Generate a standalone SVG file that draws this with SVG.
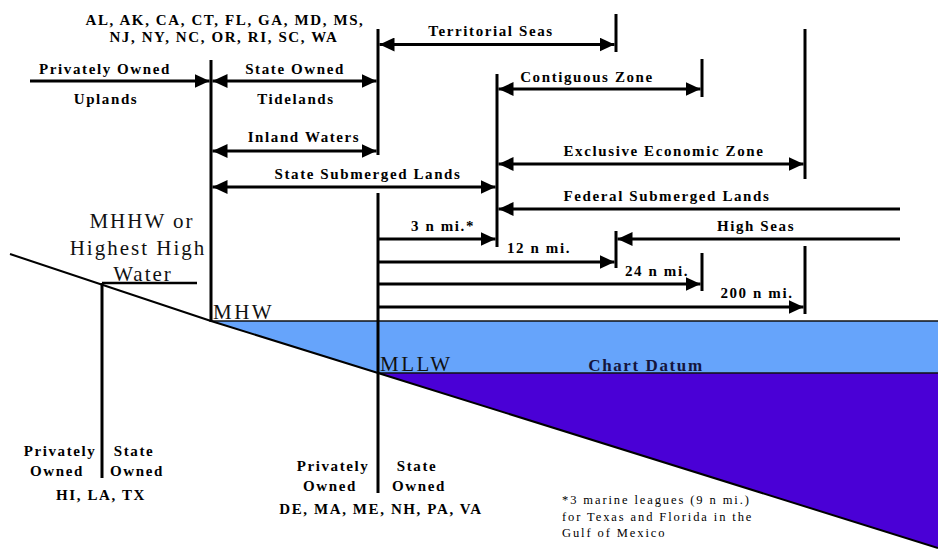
<svg xmlns="http://www.w3.org/2000/svg" width="938" height="552" viewBox="0 0 938 552">
<style>
.lbl{font-family:"Liberation Serif","Times New Roman",serif;font-weight:bold;font-size:15px;letter-spacing:1.6px;fill:#000;text-anchor:middle}
.big{font-family:"Liberation Serif","Times New Roman",serif;font-size:21px;letter-spacing:2px;fill:#111;text-anchor:middle}
.dat{font-family:"Liberation Serif","Times New Roman",serif;font-size:21px;letter-spacing:2.5px;fill:#111}
.note{font-family:"Liberation Serif","Times New Roman",serif;font-size:12.5px;letter-spacing:1.9px;fill:#000}
.chart{font-family:"Liberation Serif","Times New Roman",serif;font-weight:bold;font-size:17px;letter-spacing:1.6px;fill:#15153d;text-anchor:middle}
.v{stroke:#000;stroke-width:3;fill:none}
.a{stroke:#000;stroke-width:3;fill:none;marker-end:url(#ah)}
.aa{stroke:#000;stroke-width:3;fill:none;marker-end:url(#ah);marker-start:url(#ah)}
.as{stroke:#000;stroke-width:3;fill:none;marker-start:url(#ah)}
</style>
<defs>
<marker id="ah" markerUnits="userSpaceOnUse" markerWidth="16" markerHeight="14" refX="15" refY="7" orient="auto-start-reverse" viewBox="0 0 16 14">
<path d="M0,0 L15,7 L0,14 Z" fill="#000"/>
</marker>
</defs>
<rect width="938" height="552" fill="#fff"/>

<g id="water">
<polygon points="211,321 938,321 938,373 378,373" fill="#66a4fb"/>
<polygon points="378,373 938,373 938,548" fill="#4a00d6"/>
<line x1="211" y1="321" x2="938" y2="321" stroke="#111" stroke-width="1.5"/>
<line x1="378" y1="373" x2="938" y2="373" stroke="#111" stroke-width="1.5"/>
<polyline points="10,254 211,321 378,373 938,548" fill="none" stroke="#000" stroke-width="2"/>
</g>

<g id="boundaries">
<line class="v" x1="211" y1="60" x2="211" y2="322"/>
<line class="v" x1="378" y1="29" x2="378" y2="155"/>
<line class="v" x1="378" y1="193" x2="378" y2="493"/>
<line class="v" x1="616" y1="14" x2="616" y2="52"/>
<line class="v" x1="497" y1="74" x2="497" y2="247"/>
<line class="v" x1="702" y1="59" x2="702" y2="97"/>
<line class="v" x1="805" y1="29" x2="805" y2="179"/>
<line class="v" x1="616" y1="231" x2="616" y2="268"/>
<line class="v" x1="702" y1="253" x2="702" y2="291"/>
<line class="v" x1="805" y1="246" x2="805" y2="314"/>
<line class="v" x1="102" y1="283" x2="102" y2="478"/>
<line x1="102" y1="283" x2="197" y2="283" stroke="#000" stroke-width="2.5"/>
</g>

<g id="connectors">
<line class="aa" x1="379.5" y1="44.5" x2="614.5" y2="44.5"/>
<line class="a" x1="30" y1="81" x2="209.5" y2="81"/>
<line class="aa" x1="212.5" y1="81" x2="376.5" y2="81"/>
<line class="aa" x1="498.5" y1="89" x2="700.5" y2="89"/>
<line class="aa" x1="212.5" y1="151" x2="376.5" y2="151"/>
<line class="aa" x1="498.5" y1="164" x2="803.5" y2="164"/>
<line class="aa" x1="212.5" y1="187" x2="495.5" y2="187"/>
<line class="as" x1="498.5" y1="209" x2="900" y2="209"/>
<line class="as" x1="617.5" y1="239" x2="900" y2="239"/>
<line class="a" x1="378" y1="239" x2="495.5" y2="239"/>
<line class="a" x1="378" y1="262" x2="614.5" y2="262"/>
<line class="a" x1="378" y1="284" x2="700.5" y2="284"/>
<line class="a" x1="378" y1="307" x2="803.5" y2="307"/>
</g>

<g id="states-top">
<text class="lbl" x="225" y="25">AL, AK, CA, CT, FL, GA, MD, MS,</text>
<text class="lbl" x="224" y="42">NJ, NY, NC, OR, RI, SC, WA</text>
</g>
<g id="uplands">
<text class="lbl" x="105" y="74">Privately Owned</text>
<text class="lbl" x="106" y="104">Uplands</text>
</g>
<g id="tidelands">
<text class="lbl" x="295" y="74">State Owned</text>
<text class="lbl" x="296" y="104">Tidelands</text>
</g>
<g id="inland-waters"><text class="lbl" x="304" y="142">Inland Waters</text></g>
<g id="state-submerged"><text class="lbl" x="368" y="179">State Submerged Lands</text></g>
<g id="territorial-seas"><text class="lbl" x="491" y="36">Territorial Seas</text></g>
<g id="contiguous-zone"><text class="lbl" x="587" y="82">Contiguous Zone</text></g>
<g id="eez"><text class="lbl" x="664" y="156">Exclusive Economic Zone</text></g>
<g id="federal-submerged"><text class="lbl" x="667" y="201">Federal Submerged Lands</text></g>
<g id="high-seas"><text class="lbl" x="756" y="231">High Seas</text></g>
<g id="d3"><text class="lbl" x="443" y="231">3 n mi.*</text></g>
<g id="d12"><text class="lbl" x="539" y="253">12 n mi.</text></g>
<g id="d24"><text class="lbl" x="657" y="276">24 n mi.</text></g>
<g id="d200"><text class="lbl" x="757" y="298">200 n mi.</text></g>

<g id="mhhw">
<text class="big" x="142" y="228">MHHW or</text>
<text class="big" x="138" y="255">Highest High</text>
<text class="big" x="143" y="281">Water</text>
</g>
<g id="mhw"><text class="dat" x="213" y="319">MHW</text></g>
<g id="mllw"><text class="dat" x="380" y="371">MLLW</text></g>
<g id="chart-datum"><text class="chart" x="646" y="371">Chart Datum</text></g>

<g id="hi-la-tx">
<text class="lbl" x="60" y="456">Privately</text>
<text class="lbl" x="57" y="476">Owned</text>
<text class="lbl" x="134" y="456">State</text>
<text class="lbl" x="137" y="476">Owned</text>
<text class="lbl" x="101" y="500">HI, LA, TX</text>
</g>
<g id="de-va">
<text class="lbl" x="333" y="471">Privately</text>
<text class="lbl" x="330" y="491">Owned</text>
<text class="lbl" x="417" y="471">State</text>
<text class="lbl" x="419" y="491">Owned</text>
<text class="lbl" x="381" y="514">DE, MA, ME, NH, PA, VA</text>
</g>
<g id="footnote">
<text class="note" x="562" y="504">*3 marine leagues (9 n mi.)</text>
<text class="note" x="562" y="521">for Texas and Florida in the</text>
<text class="note" x="562" y="537">Gulf of Mexico</text>
</g>
</svg>
